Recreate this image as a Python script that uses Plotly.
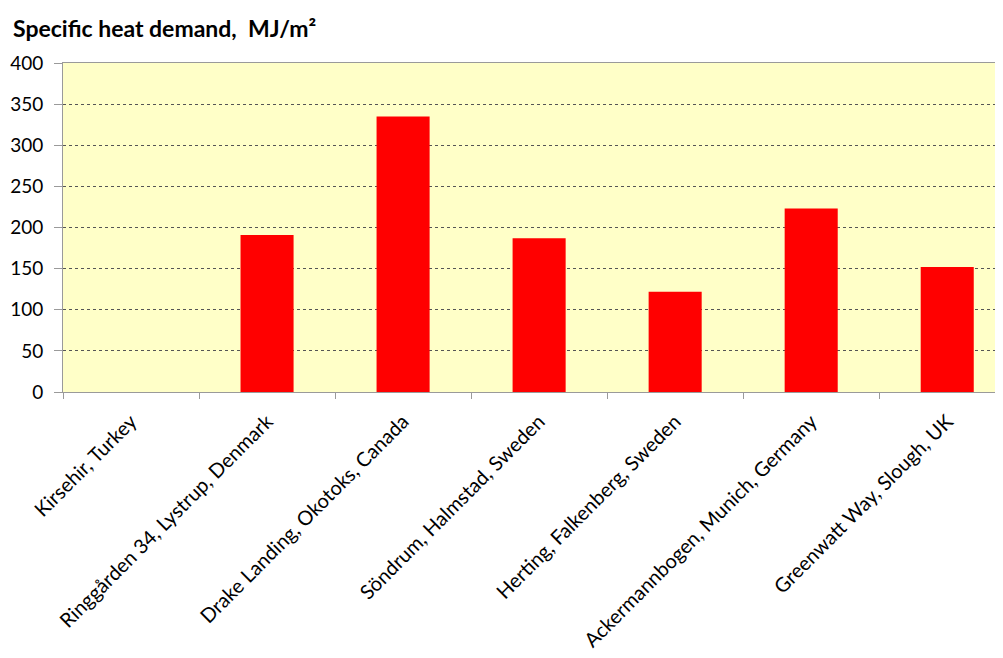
import plotly.graph_objects as go

categories = [
    "Kirsehir, Turkey",
    "Ringgården 34, Lystrup, Denmark",
    "Drake Landing, Okotoks, Canada",
    "Söndrum, Halmstad, Sweden",
    "Herting, Falkenberg, Sweden",
    "Ackermannbogen, Munich, Germany",
    "Greenwatt Way, Slough, UK",
]
values = [0, 191, 335, 187, 122, 223, 152]
y_ticks = [0, 50, 100, 150, 200, 250, 300, 350, 400]

FONT = "Lato, 'Open Sans', sans-serif"

fig = go.Figure(
    go.Bar(
        x=categories,
        y=values,
        marker=dict(color="#FF0000", line=dict(width=0)),
        width=0.39,
    )
)

fig.update_layout(
    width=995,
    height=650,
    margin=dict(l=55, r=0, t=55, b=266),
    paper_bgcolor="white",
    plot_bgcolor="#FFFFC8",
    showlegend=False,
    font=dict(family=FONT, color="#000000"),
    annotations=[
        dict(
            text="<b>Specific heat demand,  MJ/m²</b>",
            xref="paper", yref="paper",
            x=0, y=1,
            xshift=-52, yshift=35,
            xanchor="left", yanchor="middle",
            showarrow=False,
            font=dict(size=23, family=FONT, color="#000000"),
        )
    ],
)

fig.update_xaxes(
    range=[-0.5, 6.41],
    showline=True,
    linecolor="#9A9A9A",
    linewidth=1,
    mirror=True,
    ticks="outside",
    tickson="boundaries",
    ticklen=6,
    tickcolor="#9A9A9A",
    tickangle=-45,
    ticklabelstandoff=9,
    tickfont=dict(size=20, family=FONT, color="#000000"),
    showgrid=False,
)

fig.update_yaxes(
    range=[0, 400],
    tickvals=y_ticks,
    ticktext=[str(v) for v in y_ticks],
    showline=True,
    linecolor="#9A9A9A",
    linewidth=1,
    ticks="outside",
    ticklen=8,
    tickcolor="#9A9A9A",
    ticklabelstandoff=7,
    tickfont=dict(size=19, family=FONT, color="#000000"),
    showgrid=True,
    gridcolor="#555555",
    gridwidth=1,
    griddash="dot",
    zeroline=False,
)

fig.write_html("out.html")
